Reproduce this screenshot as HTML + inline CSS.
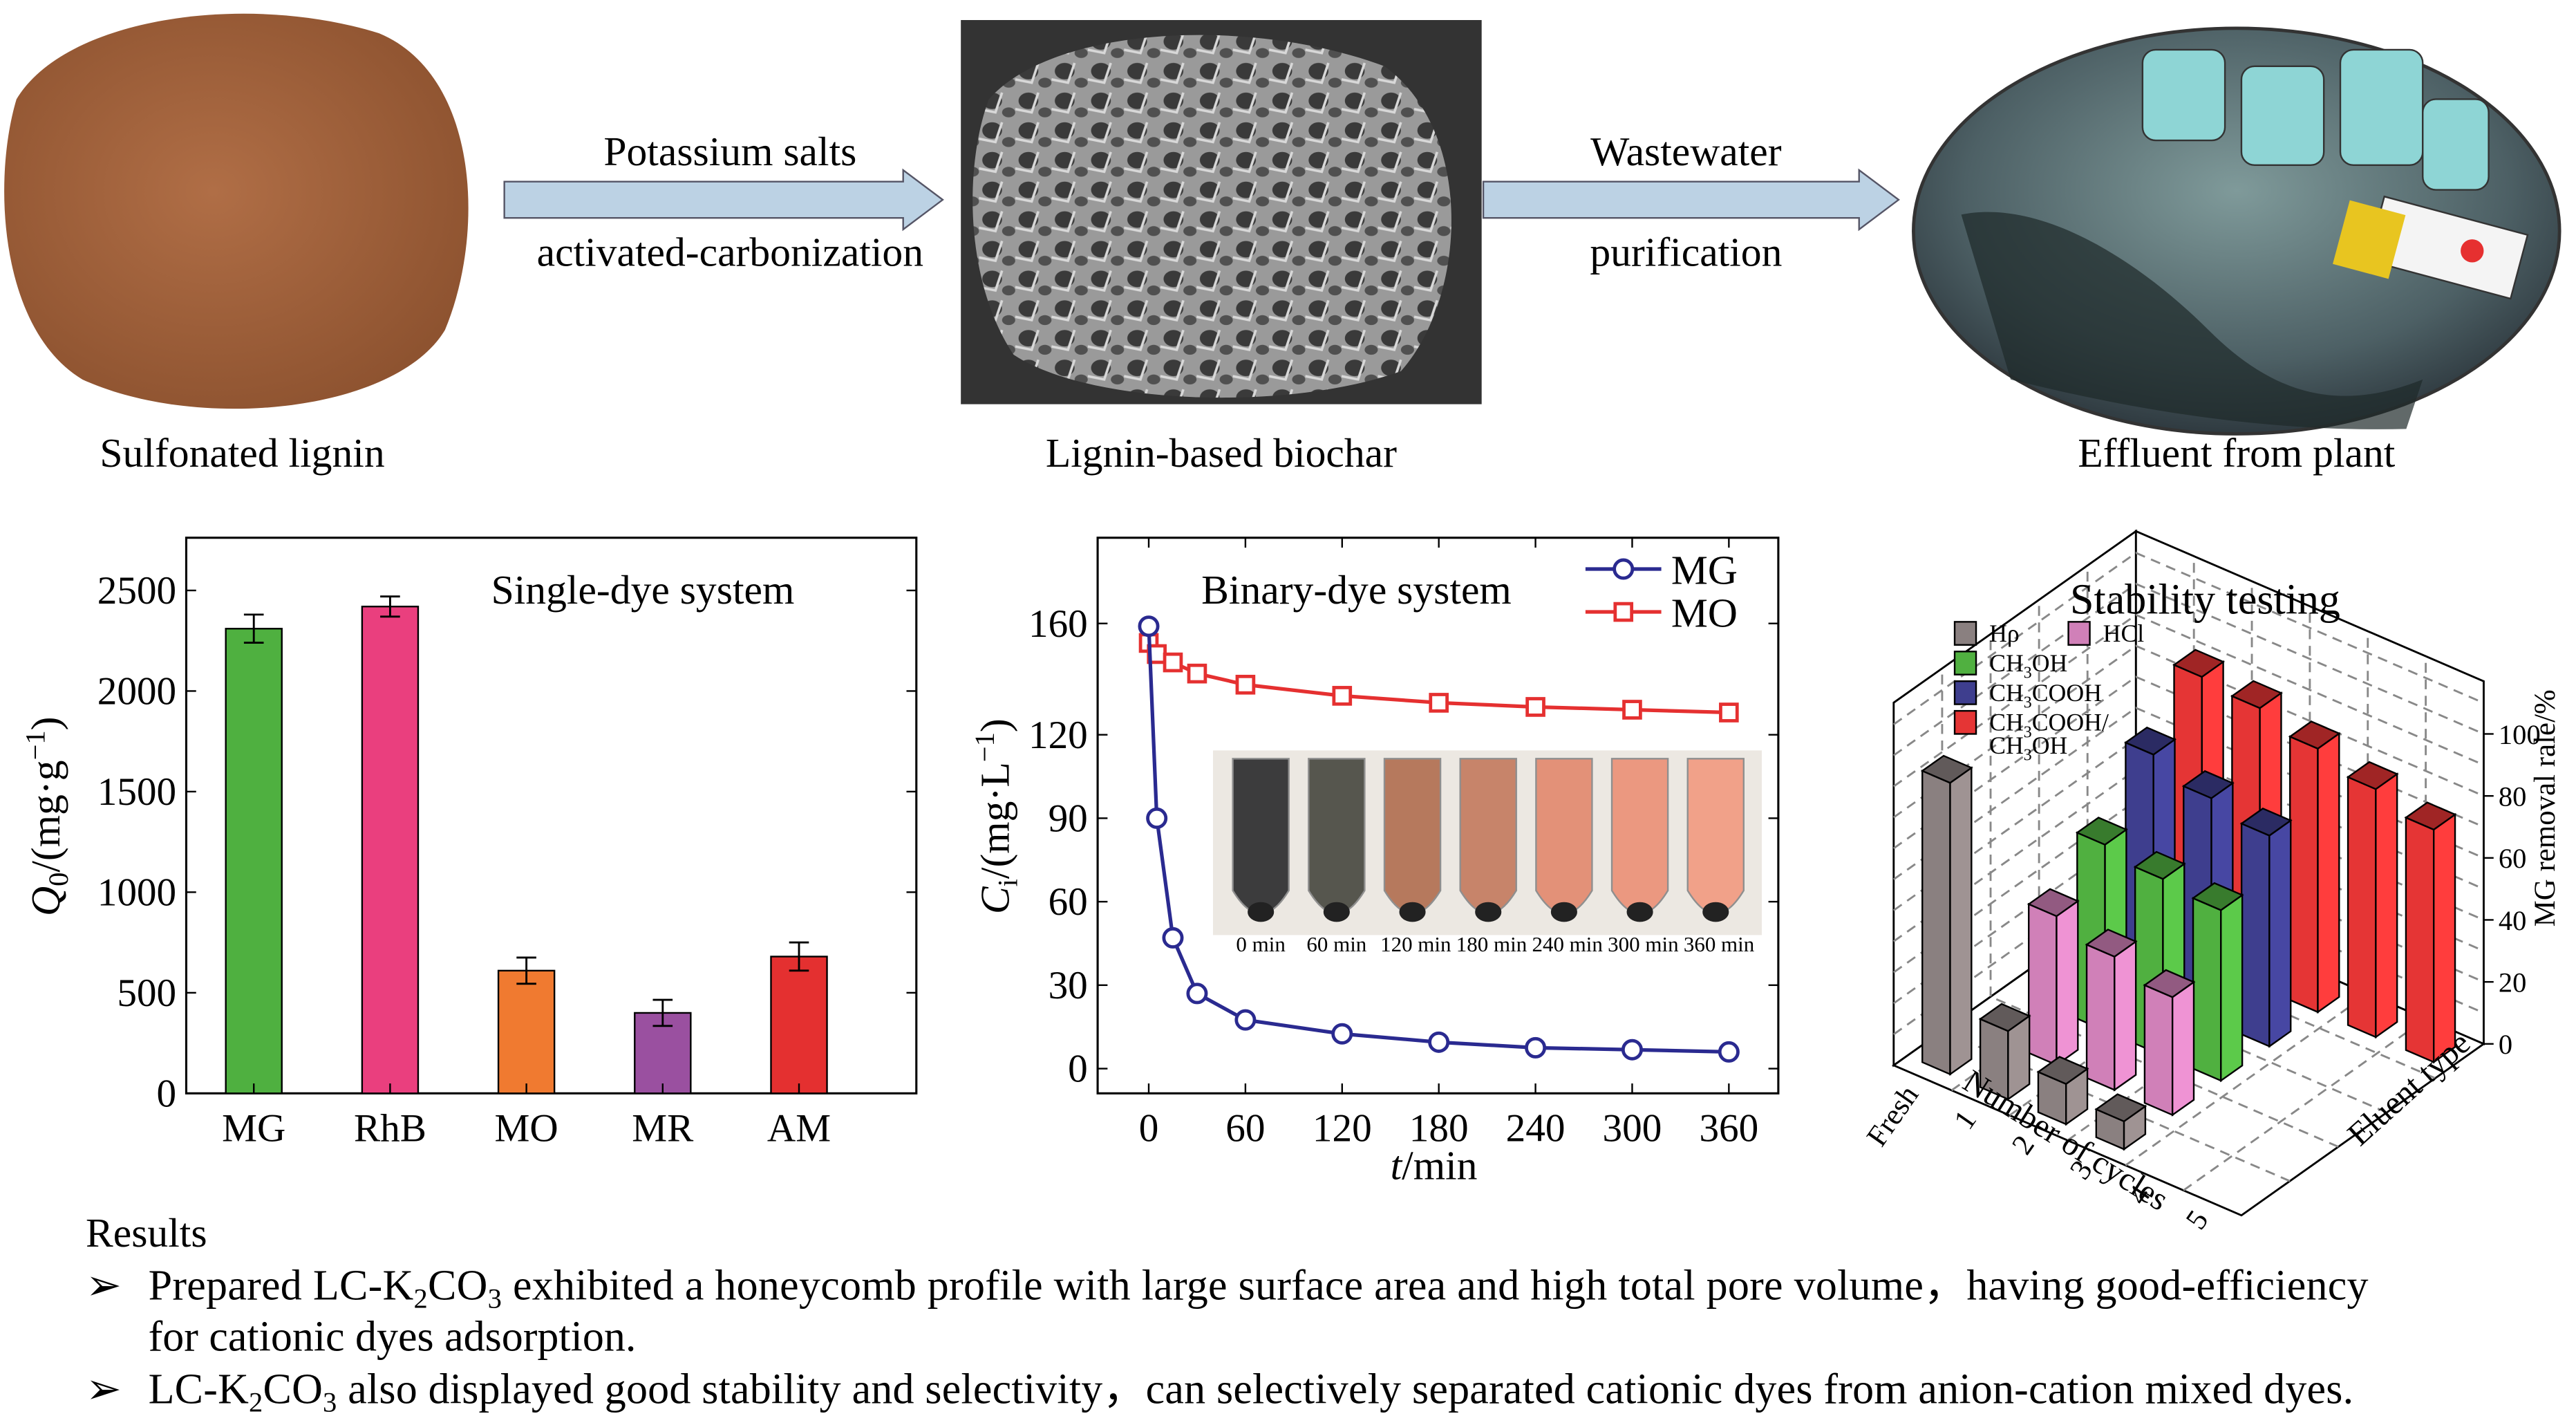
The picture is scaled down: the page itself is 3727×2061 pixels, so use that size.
<!DOCTYPE html>
<html><head><meta charset="utf-8"><style>
html,body{margin:0;padding:0;background:#fff;}
svg{display:block;font-family:"Liberation Serif",serif;}
</style></head><body>
<svg id="root" width="3727" height="2061" viewBox="0 0 1563 864" xmlns="http://www.w3.org/2000/svg">
<defs>
<radialGradient id="brown" cx="0.45" cy="0.45" r="0.6"><stop offset="0" stop-color="#b06e46"/><stop offset="1" stop-color="#8e5330"/></radialGradient>
<radialGradient id="eff" cx="0.5" cy="0.4" r="0.6"><stop offset="0" stop-color="#7f9a9a"/><stop offset="0.7" stop-color="#4d6065"/><stop offset="1" stop-color="#2f3a40"/></radialGradient>
<pattern id="sem" width="22" height="18" patternUnits="userSpaceOnUse"><rect width="22" height="18" fill="#9a9a9a"/><ellipse cx="8" cy="7" rx="6" ry="5" fill="#3a3a3a"/><ellipse cx="18" cy="14" rx="4" ry="3" fill="#505050"/><path d="M0 12 L10 14 L14 2" stroke="#d8d8d8" stroke-width="1.5" fill="none"/></pattern>
</defs>

<g>
<path d="M10 60 C40 10 150 -5 230 20 C290 45 295 140 270 200 C240 250 120 262 50 230 C0 200 -5 110 10 60 Z" fill="url(#brown)"/>
<rect x="583" y="12" width="316" height="233" fill="#333"/>
<path d="M600 60 C640 15 760 10 840 40 C895 80 890 180 850 225 C780 250 660 245 615 215 C585 170 585 100 600 60Z" fill="url(#sem)"/>
<path d="M306 110 H548 V103 L572 121 L548 139 V132 H306 Z" fill="#bcd2e4" stroke="#556" stroke-width="1"/>
<path d="M900 110 H1128 V103 L1152 121 L1128 139 V132 H900 Z" fill="#bcd2e4" stroke="#556" stroke-width="1"/>
<text x="443" y="100" font-size="25" text-anchor="middle">Potassium salts</text>
<text x="443" y="161" font-size="25" text-anchor="middle">activated-carbonization</text>
<text x="1023" y="100" font-size="25" text-anchor="middle">Wastewater</text>
<text x="1023" y="161" font-size="25" text-anchor="middle">purification</text>
<ellipse cx="1357" cy="140" rx="196" ry="123" fill="url(#eff)" stroke="#333" stroke-width="2"/>
<g fill="#8ed5d5" stroke="#333">
<rect x="1300" y="30" width="50" height="55" rx="8"/><rect x="1360" y="40" width="50" height="60" rx="8"/><rect x="1420" y="30" width="50" height="70" rx="8"/><rect x="1470" y="60" width="40" height="55" rx="8"/>
</g>
<rect x="1440" y="130" width="90" height="40" fill="#f4f4f4" stroke="#333" transform="rotate(15 1485 150)"/>
<circle cx="1500" cy="152" r="7" fill="#e63030"/>
<rect x="1420" y="125" width="35" height="40" fill="#e8c520" transform="rotate(15 1437 145)"/>
<path d="M1190 130 C1240 120 1300 160 1340 200 C1380 240 1420 250 1470 230 L1460 260 C1380 262 1300 250 1220 230Z" fill="#1e2a2a" opacity="0.7"/>
<text x="147" y="283" font-size="25" text-anchor="middle">Sulfonated lignin</text>
<text x="741" y="283" font-size="25" text-anchor="middle">Lignin-based biochar</text>
<text x="1357" y="283" font-size="25" text-anchor="middle">Effluent from plant</text>
</g>

<g id="barchart"></g>
<g id="linechart"></g>
<g id="chart3d"></g>

<g font-size="26">
<text x="52" y="756" font-size="25">Results</text>
<text x="52" y="788">➢</text>
<text x="90" y="788" textLength="1347" lengthAdjust="spacing">Prepared LC-K<tspan font-size="17" dy="5">2</tspan><tspan dy="-5">CO</tspan><tspan font-size="17" dy="5">3</tspan><tspan dy="-5"> exhibited a honeycomb profile with large surface area and high total pore volume，having good-efficiency</tspan></text>
<text x="90" y="819">for cationic dyes adsorption.</text>
<text x="52" y="851">➢</text>
<text x="90" y="851" textLength="1338" lengthAdjust="spacing">LC-K<tspan font-size="17" dy="5">2</tspan><tspan dy="-5">CO</tspan><tspan font-size="17" dy="5">3</tspan><tspan dy="-5"> also displayed good stability and selectivity，can selectively separated cationic dyes from anion-cation mixed dyes.</tspan></text>
</g>
</svg>
<script>
const NS='http://www.w3.org/2000/svg';
function mk(parent,tag,attrs,txt){const e=document.createElementNS(NS,tag);for(const k in attrs)e.setAttribute(k,attrs[k]);if(txt!==undefined)e.textContent=txt;parent.appendChild(e);return e;}

const barCats=['MG','RhB','MO','MR','AM'];
const barVals=[2310,2420,610,400,680];
const barErrs=[70,50,65,65,70];
const barColors=['#4fb040','#ea3f7e','#f07a30','#9a50a0','#e43030'];
const barYTicks=[0,500,1000,1500,2000,2500];

const lineTimes=[0,5,15,30,60,120,180,240,300,360];
const mgVals=[159,90,47,27,17.5,12.5,9.5,7.5,6.8,6];
const moVals=[153,149,146,142,138,134,131.5,130,129,128];
const lineXTicks=[0,60,120,180,240,300,360];
const lineYTicks=[0,30,60,90,120,160];
const tubeLabels=['0 min','60 min','120 min','180 min','240 min','300 min','360 min'];

const eluents=['H2O','HCl','CH3OH','CH3COOH','CH3COOH/CH3OH'];
const eluentColors=['#8a8080','#d080b8','#50b040','#3e3e8e','#e53535'];
const cycleLabels=['Fresh','1','2','3','4','5'];
const stabH2O=[94,22,13,9,null,null];
const stabHCl=[null,48,43,38,null,null];
const stabMeOH=[null,60,57,55,null,null];
const stabHAc=[null,78,72,68,null,null];
const stabMix=[null,92,90,85,80,75];
const zTicks=[0,20,40,60,80,100];

(function(){
 const g=document.getElementById('barchart');
 const L=113,R=556,T=326,B=663,ymax=2762;
 const y=v=>B-(v/ymax)*(B-T);
 const x=i=>L+41+i*82.7;
 mk(g,'rect',{x:L,y:T,width:R-L,height:B-T,fill:'none',stroke:'#000','stroke-width':1.3,});
 barYTicks.forEach(t=>{
  mk(g,'line',{x1:L,x2:L+6,y1:y(t),y2:y(t),stroke:'#000'});
  mk(g,'line',{x1:R,x2:R-6,y1:y(t),y2:y(t),stroke:'#000'});
  const tx=mk(g,'text',{x:L-6,y:y(t)+8,'font-size':24,'text-anchor':'end'},String(t));
  
  
 });
 barCats.forEach((c,i)=>{
  const r=mk(g,'rect',{x:x(i)-17,y:y(barVals[i]),width:34,height:B-y(barVals[i]),fill:barColors[i],stroke:'#000','stroke-width':1});
  
  
  const e1=y(barVals[i]+barErrs[i]),e2=y(barVals[i]-barErrs[i]);
  const eb=mk(g,'path',{d:`M${x(i)} ${e1}V${e2}M${x(i)-6} ${e1}H${x(i)+6}M${x(i)-6} ${e2}H${x(i)+6}`,stroke:'#000',fill:'none','stroke-width':1.2});
  
  
  mk(g,'line',{x1:x(i),x2:x(i),y1:B,y2:B-6,stroke:'#000'});
  const t=mk(g,'text',{x:x(i),y:B+29,'font-size':24,'text-anchor':'middle'},c);
  
  
 });
 const tt=mk(g,'text',{x:390,y:366,'font-size':25,'text-anchor':'middle'},'Single-dye system');
 
 
 const yl=mk(g,'text',{transform:'translate(36 495) rotate(-90)','font-size':25,'text-anchor':'middle'});
 yl.innerHTML='<tspan font-style="italic">Q</tspan><tspan font-size="17" dy="5">0</tspan><tspan dy="-5">/(mg·g</tspan><tspan font-size="17" dy="-9">−1</tspan><tspan dy="9">)</tspan>';
 
 
})();

(function(){
 const g=document.getElementById('linechart');
 const L=666,R=1079,T=326,B=663;
 const x=t=>697+t*(1049-697)/360;
 const y=v=>648-v*(648-378)/160;
 mk(g,'rect',{x:L,y:T,width:R-L,height:B-T,fill:'none',stroke:'#000','stroke-width':1.3,});
 const ph=mk(g,'g',{});
 
 
 mk(ph,'rect',{x:736,y:455,width:333,height:112,fill:'#ece8e2'});
 const tubeCols=['#2e2e30','#4a4a42','#b27052','#c47c60','#e38a70','#eb9278','#f29c82'];
 tubeLabels.forEach((lb,i)=>{
  const cx=765+i*46;
  mk(ph,'path',{d:`M${cx-17} 460 V540 Q${cx} 568 ${cx+17} 540 V460Z`,fill:tubeCols[i],stroke:'#888','stroke-width':1,opacity:0.92});
  mk(ph,'ellipse',{cx:cx,cy:553,rx:8,ry:6,fill:'#222'});
  const t=mk(g,'text',{x:cx+(i>=2?2:0),y:577,'font-size':13,'text-anchor':'middle'},lb);
  
  
 });
 lineXTicks.forEach(t=>{
  mk(g,'line',{x1:x(t),x2:x(t),y1:B,y2:B-6,stroke:'#000'});
  mk(g,'line',{x1:x(t),x2:x(t),y1:T,y2:T+6,stroke:'#000'});
  const tx=mk(g,'text',{x:x(t),y:B+29,'font-size':24,'text-anchor':'middle'},String(t));
  
  
 });
 lineYTicks.forEach(t=>{
  mk(g,'line',{x1:L,x2:L+6,y1:y(t),y2:y(t),stroke:'#000'});
  mk(g,'line',{x1:R,x2:R-6,y1:y(t),y2:y(t),stroke:'#000'});
  const tx=mk(g,'text',{x:L-6,y:y(t)+8,'font-size':24,'text-anchor':'end'},String(t));
  
  
 });
 function series(vals,col,name,marker){
  const p=mk(g,'polyline',{points:lineTimes.map((t,i)=>x(t)+','+y(vals[i])).join(' '),fill:'none',stroke:col,'stroke-width':2.2});
  
  
  lineTimes.forEach((t,i)=>{
   let m;
   if(marker==='c'){m=mk(g,'circle',{cx:x(t),cy:y(vals[i]),r:5.5,fill:'#fff',stroke:col,'stroke-width':2});}
   else{m=mk(g,'rect',{x:x(t)-5,y:y(vals[i])-5,width:10,height:10,fill:'#fff',stroke:col,'stroke-width':2});}
   
   
  });
 }
 series(moVals,'#e53030','mo','s');
 series(mgVals,'#2a2a90','mg','c');
 mk(g,'line',{x1:962,x2:1008,y1:345,y2:345,stroke:'#2a2a90','stroke-width':2.2});
 const lc=mk(g,'circle',{cx:985,cy:345,r:5.5,fill:'#fff',stroke:'#2a2a90','stroke-width':2});
 
 
 const t1=mk(g,'text',{x:1014,y:354,'font-size':25},'MG');
 
 
 mk(g,'line',{x1:962,x2:1008,y1:371,y2:371,stroke:'#e53030','stroke-width':2.2});
 mk(g,'rect',{x:980,y:366,width:10,height:10,fill:'#fff',stroke:'#e53030','stroke-width':2});
 const t2=mk(g,'text',{x:1014,y:380,'font-size':25},'MO');
 
 
 const tt=mk(g,'text',{x:823,y:366,'font-size':25,'text-anchor':'middle'},'Binary-dye system');
 
 
 const yl=mk(g,'text',{transform:'translate(612 495) rotate(-90)','font-size':25,'text-anchor':'middle'});
 yl.innerHTML='<tspan font-style="italic">C</tspan><tspan font-size="17" dy="5">i</tspan><tspan dy="-5">/(mg·L</tspan><tspan font-size="17" dy="-9">−1</tspan><tspan dy="9">)</tspan>';
 
 
 const xl=mk(g,'text',{x:870,y:715,'font-size':25,'text-anchor':'middle'});
 xl.innerHTML='<tspan font-style="italic">t</tspan>/min';
 
 
})();

(function(){
 const g=document.getElementById('chart3d');
 const Lc=[1149,646], U=[211,91], V=[147,-104], Zs=1.88;
 const P=(u,v,z)=>[Lc[0]+u*U[0]/6+v*V[0]/5, Lc[1]+u*U[1]/6+v*V[1]/5 - z*Zs];
 const pts=a=>a.map(p=>p.join(',')).join(' ');
 const zTop=117;
 const wall=(a)=>mk(g,'polygon',{points:pts(a),fill:'#fff',stroke:'#000','stroke-width':1.2});
 wall([P(0,0,0),P(0,5,0),P(0,5,zTop),P(0,0,zTop)]);
 wall([P(0,5,0),P(6,5,0),P(6,5,zTop),P(0,5,zTop)]);
 wall([P(0,0,0),P(6,0,0),P(6,5,0),P(0,5,0)]);
 const dash={stroke:'#888','stroke-width':1.2,'stroke-dasharray':'6 4',fill:'none'};
 for(let i=1;i<6;i++){const a=P(i,0,0),b=P(i,5,0),c=P(i,5,zTop);mk(g,'polyline',Object.assign({points:pts([a,b,c])},dash));}
 for(let j=1;j<5;j++){const a=P(6,j,0),b=P(0,j,0),c=P(0,j,zTop);mk(g,'polyline',Object.assign({points:pts([a,b,c])},dash));}
 for(let z=10;z<zTop;z+=10){mk(g,'polyline',Object.assign({points:pts([P(0,0,z),P(0,5,z),P(6,5,z)])},dash));}
 zTicks.forEach(t=>{
  const p=P(6,5,t);
  mk(g,'line',{x1:p[0],y1:p[1],x2:p[0]+6,y2:p[1],stroke:'#000'});
  const tx=mk(g,'text',{x:p[0]+9,y:p[1]+6,'font-size':17},String(t));
  
  
 });
 const series=[stabH2O,stabHCl,stabMeOH,stabHAc,stabMix];
 const items=[];
 series.forEach((arr,j)=>arr.forEach((v,i)=>{if(v!==null)items.push({i,j,v});}));
 items.sort((a,b)=>P(a.i+0.5,a.j+0.5,0)[1]-P(b.i+0.5,b.j+0.5,0)[1]);
 const hw=0.24,hv=0.22;
 function shade(hex,f){const n=parseInt(hex.slice(1),16);let r=n>>16,gg=(n>>8)&255,b=n&255;r=Math.min(255,Math.round(r*f));gg=Math.min(255,Math.round(gg*f));b=Math.min(255,Math.round(b*f));return `rgb(${r},${gg},${b})`;}
 items.forEach(it=>{
  const u0=it.i+0.5-hw, u1=it.i+0.5+hw, v0=it.j+0.5-hv, v1=it.j+0.5+hv;
  const col=eluentColors[it.j];
  const bg=mk(g,'g',{});
  
  
  mk(bg,'polygon',{points:pts([P(u0,v0,0),P(u1,v0,0),P(u1,v0,it.v),P(u0,v0,it.v)]),fill:col,stroke:'#000','stroke-width':1});
  mk(bg,'polygon',{points:pts([P(u1,v0,0),P(u1,v1,0),P(u1,v1,it.v),P(u1,v0,it.v)]),fill:shade(col,1.15),stroke:'#000','stroke-width':1});
  mk(bg,'polygon',{points:pts([P(u0,v0,it.v),P(u1,v0,it.v),P(u1,v1,it.v),P(u0,v1,it.v)]),fill:shade(col,0.7),stroke:'#000','stroke-width':1});
 });
 cycleLabels.forEach((c,i)=>{
  const p=P(i+0.5,0,0);
  const t=mk(g,'text',{x:0,y:0,'font-size':18,'text-anchor':'end',transform:`translate(${p[0]-2} ${p[1]+10}) rotate(-55)`},c);
  
  
 });
 const xl=mk(g,'text',{'font-size':20,'text-anchor':'middle',transform:'translate(1250 697) rotate(32)'},'Number of cycles');
 
 
 const el=mk(g,'text',{'font-size':20,'text-anchor':'middle',transform:'translate(1466 665) rotate(-42)'},'Eluent type');
 
 
 const zl=mk(g,'text',{'font-size':18,'text-anchor':'middle',transform:'translate(1550 490) rotate(-90)'},'MG removal rale/%');
 
 
 const tt=mk(g,'text',{x:1338,y:372,'font-size':26,'text-anchor':'middle'},'Stability testing');
 
 
 const leg=[['Hρ',0,1186,384],['HCl',1,1255,384],['CH<tspan font-size="10" dy="4">3</tspan><tspan dy="-4">OH</tspan>',2,1186,402],['CH<tspan font-size="10" dy="4">3</tspan><tspan dy="-4">COOH</tspan>',3,1186,420],['CH<tspan font-size="10" dy="4">3</tspan><tspan dy="-4">COOH/</tspan>',4,1186,438]];
 leg.forEach(l=>{
  const r=mk(g,'rect',{x:l[2],y:l[3]-7,width:13,height:14,fill:eluentColors[l[1]],stroke:'#000'});
  
  
  const t=mk(g,'text',{x:l[2]+21,y:l[3]+5,'font-size':15});
  t.innerHTML=l[0];
  
  
 });
 const t=mk(g,'text',{x:1207,y:457,'font-size':15});
 t.innerHTML='CH<tspan font-size="10" dy="4">3</tspan><tspan dy="-4">OH</tspan>';
 
 
})();
</script>
</body></html>
